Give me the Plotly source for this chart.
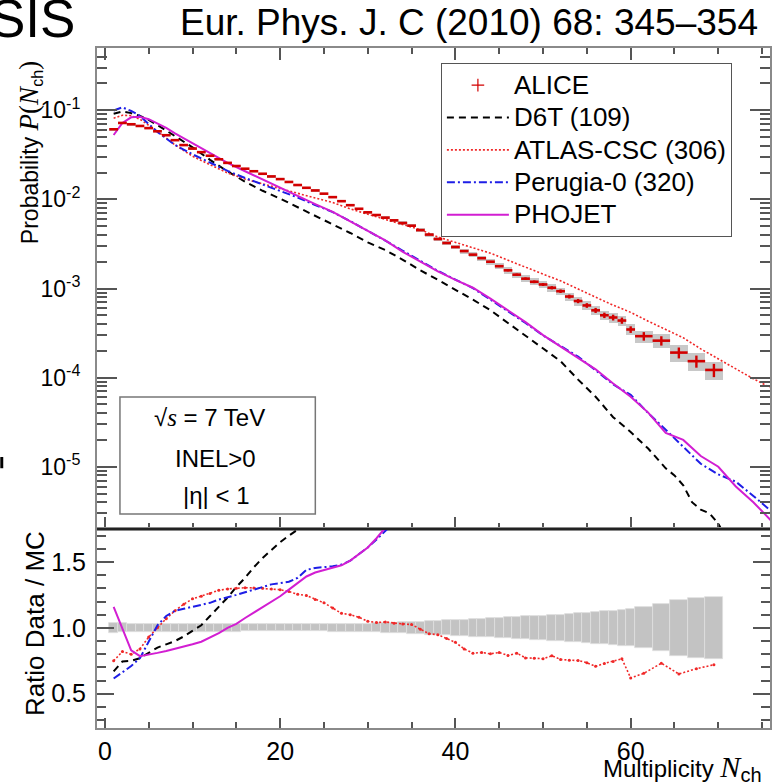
import plotly.graph_objects as go

# ---------------- data ----------------
alice_n = list(range(1, 61)) + [61.5, 63.5, 65.5, 67.5, 69.5]
alice_halfw = [0.5] * 60 + [1.0] * 5
alice_p = [0.0612, 0.0721, 0.0697, 0.0667, 0.0631, 0.0581, 0.0525, 0.0462, 0.0407, 0.0372,
           0.0339, 0.0309, 0.0282, 0.0257, 0.0237, 0.0221, 0.0207, 0.0194, 0.0181, 0.0169,
           0.0157, 0.0145, 0.0135, 0.0126, 0.0116, 0.0106, 0.00955, 0.00861, 0.00785, 0.00716,
           0.00668, 0.00624, 0.00582, 0.00543, 0.00507, 0.00452, 0.00403, 0.00359, 0.00324, 0.00292,
           0.00263, 0.00240, 0.00219, 0.00200, 0.00178, 0.00160, 0.00143, 0.00129, 0.00119, 0.00111,
           0.00102, 0.000933, 0.000813, 0.000724, 0.000646, 0.000569, 0.000501, 0.000473, 0.000437, 0.000347,
           0.000292, 0.000260, 0.000191, 0.000153, 0.000122]
alice_stat_rel = [0.003, 0.003, 0.003, 0.003, 0.003, 0.003, 0.003, 0.003, 0.003, 0.003,
                  0.003, 0.003, 0.003, 0.003, 0.003, 0.003, 0.003, 0.003, 0.003, 0.003,
                  0.004, 0.004, 0.004, 0.004, 0.004, 0.005, 0.005, 0.005, 0.005, 0.005,
                  0.006, 0.006, 0.007, 0.007, 0.008, 0.009, 0.010, 0.011, 0.012, 0.013,
                  0.015, 0.017, 0.019, 0.021, 0.023, 0.026, 0.029, 0.032, 0.035, 0.038,
                  0.042, 0.046, 0.050, 0.055, 0.060, 0.065, 0.070, 0.075, 0.080, 0.085,
                  0.110, 0.120, 0.140, 0.155, 0.170]
alice_sys_rel = [0.038, 0.034, 0.032, 0.030, 0.028, 0.028, 0.028, 0.028, 0.028, 0.028,
                 0.028, 0.028, 0.028, 0.028, 0.028, 0.027, 0.027, 0.027, 0.027, 0.027,
                 0.027, 0.027, 0.027, 0.027, 0.027, 0.030, 0.030, 0.030, 0.030, 0.030,
                 0.033, 0.036, 0.039, 0.042, 0.045, 0.048, 0.051, 0.054, 0.057, 0.060,
                 0.063, 0.066, 0.069, 0.072, 0.076, 0.079, 0.083, 0.086, 0.090, 0.093,
                 0.097, 0.100, 0.105, 0.110, 0.116, 0.120, 0.125, 0.130, 0.137, 0.140,
                 0.155, 0.178, 0.210, 0.228, 0.233]

d6t_n = [1, 2, 3, 4, 5, 6, 8, 10, 12, 14, 16, 18, 20, 22, 24, 26, 28, 30, 32, 34, 36, 38, 40,
         42, 44, 46, 48, 50, 52, 54, 56, 58, 60, 62, 64, 65, 66, 67, 68, 69, 70, 71]
d6t_p = [0.0913, 0.0968, 0.0929, 0.0866, 0.0779, 0.0684, 0.0513, 0.0384, 0.0278, 0.0206, 0.0158,
         0.0125, 0.0102, 0.0082, 0.0066, 0.0053, 0.0042, 0.0033, 0.0027, 0.0021, 0.0016, 0.00125,
         0.00097, 0.00075, 0.00057, 0.00041, 0.00029, 0.00021, 0.000153, 0.000095, 0.000061,
         0.000036, 0.0000245, 0.000016, 0.0000096, 0.0000080, 0.0000062, 0.0000040, 0.0000033,
         0.0000030, 0.0000023, 0.0000015]

atlas_n = [1, 2, 3, 4, 5, 6, 8, 10, 12, 14, 16, 18, 20, 22, 24, 26, 28, 30, 32, 34, 36, 38, 40,
           42, 44, 46, 48, 50, 52, 54, 56, 58, 60, 62, 64, 66, 68, 70, 72, 74, 76]
atlas_p = [0.0816, 0.0879, 0.0871, 0.0794, 0.0678, 0.0581, 0.0409, 0.0305, 0.0245, 0.0198, 0.0169,
           0.0149, 0.0131, 0.01155, 0.01037, 0.00922, 0.00783, 0.00682, 0.00597, 0.00527, 0.00457,
           0.00379, 0.00330, 0.00288, 0.00249, 0.00208, 0.00172, 0.00145, 0.00122, 0.00098, 0.00080,
           0.00065, 0.00054, 0.00043, 0.00035, 0.00028, 0.00021, 0.000162, 0.000125, 0.000097, 0.000077]

perugia_n = [1, 2, 3, 4, 5, 6, 7, 8, 10, 12, 14, 16, 18, 20, 22, 24, 26, 28, 30, 32, 34, 36, 38,
             40, 42, 44, 46, 48, 50, 52, 54, 56, 58, 60, 62, 64, 66, 68, 70, 72, 74, 76]
perugia_p = [0.0994, 0.108, 0.0982, 0.0866, 0.0701, 0.0570, 0.0482, 0.0409, 0.0321, 0.0260, 0.0209,
             0.0174, 0.0148, 0.0126, 0.0105, 0.00866, 0.00721, 0.0057, 0.00448, 0.00345, 0.00265,
             0.00205, 0.00158, 0.00126, 0.00101, 0.00075, 0.00056, 0.00041, 0.000298, 0.000226,
             0.000172, 0.000121, 0.000084, 0.000064, 0.000040, 0.000026, 0.0000168, 0.0000108,
             0.0000082, 0.0000068, 0.0000047, 0.0000032]

phojet_n = [1, 2, 3, 4, 5, 6, 7, 8, 10, 12, 14, 16, 18, 20, 22, 24, 26, 28, 30, 32, 34, 36, 38,
            40, 42, 44, 46, 48, 50, 52, 54, 56, 58, 60, 62, 64, 66, 68, 70, 72, 74, 76]
phojet_p = [0.0528, 0.0721, 0.0834, 0.0844, 0.0794, 0.0717, 0.0636, 0.055, 0.0425, 0.0332, 0.0257,
            0.0207, 0.0167, 0.0136, 0.0108, 0.00887, 0.00726, 0.0057, 0.00445, 0.00347, 0.00258,
            0.0020, 0.00156, 0.00125, 0.00102, 0.00077, 0.00057, 0.00042, 0.000300, 0.000222,
            0.000168, 0.000124, 0.000086, 0.000061, 0.0000405, 0.000024, 0.000020, 0.0000132,
            0.0000100, 0.0000060, 0.0000040, 0.0000025]

# ratio Data / MC
r_d6t_n = list(range(1, 24))
r_d6t = [0.67, 0.745, 0.75, 0.77, 0.81, 0.85, 0.875, 0.90, 0.935, 0.98, 1.02, 1.09, 1.16, 1.23,
         1.31, 1.38, 1.46, 1.53, 1.59, 1.65, 1.70, 1.745, 1.80]
r_atlas_n = alice_n
r_atlas = [0.75, 0.82, 0.80, 0.84, 0.93, 1.00, 1.07, 1.13, 1.18, 1.22, 1.24, 1.26, 1.285, 1.295, 1.30,
           1.305, 1.303, 1.30, 1.295, 1.29, 1.275, 1.255, 1.245, 1.215, 1.19, 1.15, 1.11, 1.10, 1.08, 1.05,
           1.04, 1.045, 1.035, 1.03, 1.025, 0.99, 0.955, 0.948, 0.92, 0.89, 0.84, 0.808, 0.813, 0.803, 0.813,
           0.79, 0.808, 0.772, 0.77, 0.765, 0.788, 0.76, 0.755, 0.752, 0.735, 0.708, 0.73, 0.745, 0.765, 0.62,
           0.655, 0.732, 0.65, 0.69, 0.72]
r_perugia_n = list(range(1, 34))
r_perugia = [0.616, 0.665, 0.71, 0.77, 0.90, 1.02, 1.09, 1.13, 1.145, 1.16, 1.175, 1.19, 1.215, 1.23,
             1.25, 1.27, 1.29, 1.31, 1.33, 1.34, 1.35, 1.38, 1.44, 1.455, 1.46, 1.467, 1.48, 1.51, 1.56,
             1.61, 1.67, 1.73, 1.80]
r_phojet_n = list(range(1, 33))
r_phojet = [1.16, 0.99, 0.83, 0.785, 0.795, 0.81, 0.825, 0.84, 0.855, 0.875, 0.895, 0.925, 0.96, 1.0,
            1.03, 1.075, 1.115, 1.16, 1.20, 1.24, 1.29, 1.34, 1.39, 1.42, 1.44, 1.46, 1.475, 1.51, 1.56,
            1.61, 1.68, 1.76]

legend_names = ["ALICE", "D6T (109)", "ATLAS-CSC (306)", "Perugia-0 (320)", "PHOJET"]
ytick_vals = [1e-5, 1e-4, 1e-3, 1e-2, 1e-1]
ytick_text = ["10<sup>-5</sup>", "10<sup>-4</sup>", "10<sup>-3</sup>", "10<sup>-2</sup>", "10<sup>-1</sup>"]
xtick_vals = [0, 20, 40, 60]
rtick_vals = [0.5, 1.0, 1.5]
rtick_text = ["0.5", "1.0", "1.5"]

# ---------------- styling ----------------
RED = "rgb(210,0,0)"
RED_MC = "rgb(240,40,40)"
BLUE = "rgb(30,30,230)"
MAG = "rgb(210,30,210)"
FRAME = "#8a8a8a"
TICKC = "#555555"
FONT = "Liberation Sans, Arial, sans-serif"


def leg(name):
    return "<span style=\"font-size:26px\">" + name + "</span>"


fig = go.Figure()

# systematic boxes, top panel
sys_lo = [p * (1 - e) for p, e in zip(alice_p, alice_sys_rel)]
sys_h = [p * 2 * e for p, e in zip(alice_p, alice_sys_rel)]
fig.add_trace(go.Bar(x=alice_n, y=sys_h, base=sys_lo, width=[2 * w for w in alice_halfw],
                     marker=dict(color="rgb(200,200,200)", line=dict(width=0)),
                     showlegend=False, hoverinfo="skip", xaxis="x", yaxis="y"))

# legend-only ALICE marker
fig.add_trace(go.Scatter(x=[None], y=[None], mode="markers", name=leg(legend_names[0]),
                         marker=dict(symbol="cross-thin", size=9, line=dict(width=1.2, color=RED)),
                         xaxis="x", yaxis="y"))

line_specs = [
    (d6t_n, d6t_p, legend_names[1], dict(color="black", width=2, dash="7px,5px")),
    (atlas_n, atlas_p, legend_names[2], dict(color=RED_MC, width=1.6, dash="2px,2px")),
    (perugia_n, perugia_p, legend_names[3], dict(color=BLUE, width=2, dash="8px,3px,2px,3px")),
    (phojet_n, phojet_p, legend_names[4], dict(color=MAG, width=2)),
]
for xs, ys, nm, ln in line_specs:
    fig.add_trace(go.Scatter(x=xs, y=ys, mode="lines", name=leg(nm), line=ln, xaxis="x", yaxis="y"))

# ALICE data points
fig.add_trace(go.Scatter(
    x=alice_n, y=alice_p, mode="markers", showlegend=False,
    marker=dict(size=1, color=RED, opacity=0),
    error_x=dict(type="data", array=alice_halfw, color=RED, thickness=2.6, width=0),
    error_y=dict(type="data", array=[p * s for p, s in zip(alice_p, alice_stat_rel)],
                 color=RED, thickness=2.4, width=0),
    xaxis="x", yaxis="y"))

# ratio panel: systematic band
fig.add_trace(go.Bar(x=alice_n, y=[2 * e for e in alice_sys_rel], base=[1 - e for e in alice_sys_rel],
                     width=[2 * w for w in alice_halfw],
                     marker=dict(color="rgb(195,195,195)", line=dict(width=0.8, color="rgb(222,222,222)")),
                     showlegend=False, hoverinfo="skip", xaxis="x2", yaxis="y2"))

ratio_specs = [
    (r_d6t_n, r_d6t, dict(color="black", width=2, dash="7px,5px"), None),
    (r_atlas_n, r_atlas, dict(color=RED_MC, width=1.6, dash="2px,2px"), dict(size=3, color=RED_MC)),
    (r_perugia_n, r_perugia, dict(color=BLUE, width=2, dash="8px,3px,2px,3px"), None),
    (r_phojet_n, r_phojet, dict(color=MAG, width=2), None),
]
for xs, ys, ln, mk in ratio_specs:
    fig.add_trace(go.Scatter(x=xs, y=ys, mode="lines+markers" if mk else "lines",
                             line=ln, marker=mk, showlegend=False, xaxis="x2", yaxis="y2"))

SPLIT = 0.2926
xrange_ = [-0.9, 75.9]
minor_log = [m * 10 ** e for e in range(-6, 0) for m in range(2, 10)]

common_axis = dict(showline=True, linecolor=FRAME, linewidth=2, showgrid=False, zeroline=False,
                   tickcolor=TICKC, tickwidth=1.5)

fig.update_layout(
    width=774, height=783,
    margin=dict(l=97, r=2, t=48, b=55),
    paper_bgcolor="white", plot_bgcolor="white",
    font=dict(family=FONT, color="black"),
    barmode="overlay", bargap=0,
    showlegend=True,
    legend=dict(x=0.511, y=0.978, xanchor="left", yanchor="top", bgcolor="white",
                bordercolor="#555555", borderwidth=1, font=dict(size=22.6, family=FONT),
                itemwidth=62, tracegroupgap=0, traceorder="normal"),
    xaxis=dict(domain=[0, 1], anchor="y", range=xrange_, showticklabels=False,
               ticks="inside", ticklen=12, tick0=0, dtick=20, mirror="ticks",
               minor=dict(ticks="inside", ticklen=6, dtick=5, tick0=0, tickcolor=TICKC, showgrid=False),
               **common_axis),
    yaxis=dict(domain=[SPLIT, 1], anchor="x", type="log", range=[-5.699, -0.301],
               tickmode="array", tickvals=ytick_vals, ticktext=ytick_text,
               ticks="inside", ticklen=20, mirror="ticks", ticklabelstandoff=10,
               tickfont=dict(size=23, family=FONT),
               minor=dict(ticks="inside", ticklen=10, tickmode="array", tickvals=minor_log,
                          tickcolor=TICKC, showgrid=False),
               **common_axis),
    xaxis2=dict(domain=[0, 1], anchor="y2", range=xrange_, matches="x",
                tickmode="array", tickvals=xtick_vals, ticks="inside", ticklen=10,
                mirror=True, ticklabelstandoff=0, tickfont=dict(size=25, family=FONT),
                minor=dict(ticks="inside", ticklen=6, dtick=5, tick0=0, tickcolor=TICKC, showgrid=False),
                **common_axis),
    yaxis2=dict(domain=[0, SPLIT], anchor="x2", range=[0.24, 1.75],
                tickmode="array", tickvals=rtick_vals, ticktext=rtick_text,
                ticks="inside", ticklen=17, mirror="ticks", ticklabelstandoff=4,
                tickfont=dict(size=25, family=FONT),
                minor=dict(ticks="inside", ticklen=9, dtick=0.1, tick0=0, tickcolor=TICKC, showgrid=False),
                **common_axis),
)

SERIF_SPAN = "<span style=\"font-family:'Liberation Serif';font-size:{}px\">{}</span>"
annotations = [
    dict(text="Eur. Phys. J. C (2010) 68: 345\u2013354", x=0.985, y=1.0368, xanchor="right",
         yanchor="middle", font=dict(size=37, family=FONT)),
    dict(text="SIS", x=-0.0296, y=1.044, xanchor="right", yanchor="middle",
         font=dict(size=53, family=FONT)),
    dict(text="Probability " + SERIF_SPAN.format(27, "<i>P</i>(<i>N</i>") + "<sub>ch</sub>"
         + SERIF_SPAN.format(27, ")"),
         x=-0.0993, y=0.8456, xanchor="center", yanchor="middle", textangle=-90,
         font=dict(size=23, family=FONT)),
    dict(text="Ratio Data / MC", x=-0.0919, y=0.153, xanchor="center", yanchor="middle",
         textangle=-90, font=dict(size=26, family=FONT)),
    dict(text="Multiplicity&nbsp;" + SERIF_SPAN.format(30, "<i>N</i>")
         + "<sub><span style=\"font-size:20px\">ch</span></sub>",
         x=(602 - 97) / 675, y=-0.0588, xanchor="left", yanchor="middle",
         font=dict(size=24, family=FONT)),
    dict(text="\u221a" + SERIF_SPAN.format(25, "<i>s</i>") + " = 7 TeV",
         x=0.1674, y=0.4559, xanchor="center", yanchor="middle", font=dict(size=24, family=FONT)),
    dict(text="INEL&gt;0", x=0.1763, y=0.397, xanchor="center", yanchor="middle",
         font=dict(size=24, family=FONT)),
    dict(text="|\u03b7| &lt; 1", x=0.1778, y=0.3426, xanchor="center", yanchor="middle",
         font=dict(size=24, family=FONT)),
]
for a in annotations:
    a.update(xref="paper", yref="paper", showarrow=False)
fig.update_layout(annotations=annotations)

fig.update_layout(shapes=[
    dict(type="rect", xref="paper", yref="paper", x0=0.0341, x1=0.3244, y0=0.3147, y1=0.4868,
         line=dict(color="#777777", width=1.5), fillcolor="white", layer="above"),
    dict(type="line", xref="paper", yref="paper", x0=0, x1=1, y0=SPLIT, y1=SPLIT,
         line=dict(color="#222222", width=2), layer="above"),
    dict(type="rect", xref="paper", yref="paper", x0=-0.1437, x1=-0.1393, y0=0.382, y1=0.3985,
         line=dict(width=0), fillcolor="black"),
])

fig.write_html("out.html")
